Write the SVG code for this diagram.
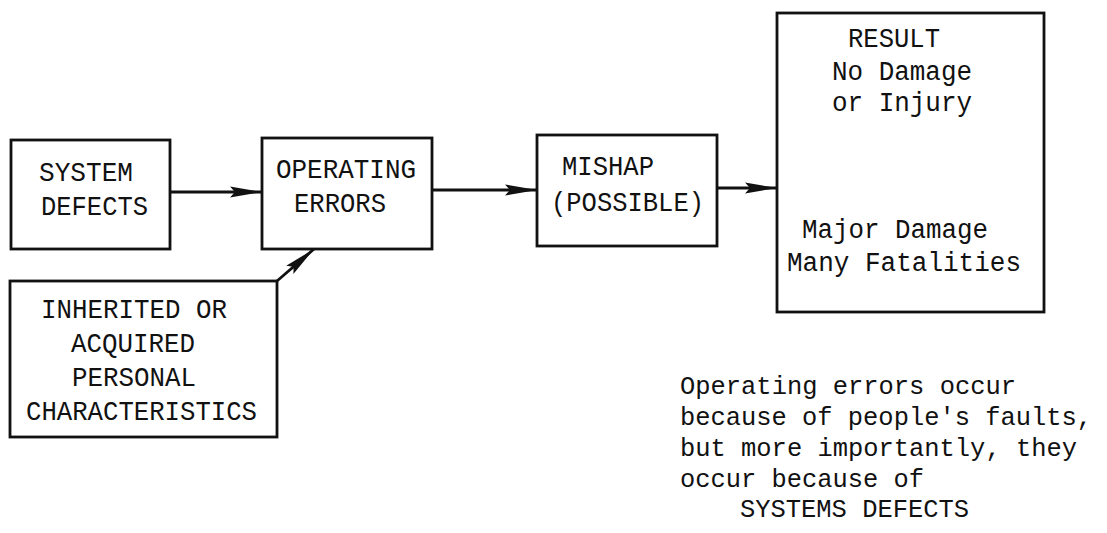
<svg xmlns="http://www.w3.org/2000/svg" width="1107" height="533" viewBox="0 0 1107 533">
<style>
  .box { fill: none; stroke: #111; stroke-width: 2.8; }
  .lbl { font-family: "Liberation Mono", "DejaVu Sans Mono", monospace; font-size: 27px; fill: #111; }
  .note { font-size: 25.5px; }
  .conn { stroke: #111; stroke-width: 2.8; fill: none; }
</style>
<defs>
  <marker id="ah" markerUnits="userSpaceOnUse" markerWidth="32" markerHeight="14" refX="32" refY="7" orient="auto">
    <path d="M0,1.5 L32,7 L0,12.5 L5,7 z" fill="#111"/>
  </marker>
</defs>
<rect width="1107" height="533" fill="#fff"/>

<g id="connectors">
  <line class="conn" x1="170" y1="192" x2="262" y2="192" marker-end="url(#ah)"/>
  <line class="conn" x1="432" y1="190" x2="537" y2="190" marker-end="url(#ah)"/>
  <line class="conn" x1="717" y1="188" x2="777" y2="188" marker-end="url(#ah)"/>
  <line class="conn" x1="277" y1="281" x2="314" y2="249" marker-end="url(#ah)"/>
</g>

<g id="system-defects">
  <rect class="box" x="11" y="140" width="159" height="109"/>
  <text class="lbl" x="39" y="181" textLength="94" lengthAdjust="spacingAndGlyphs">SYSTEM</text>
  <text class="lbl" x="41" y="215" textLength="107" lengthAdjust="spacingAndGlyphs">DEFECTS</text>
</g>

<g id="operating-errors">
  <rect class="box" x="262" y="138" width="170" height="111"/>
  <text class="lbl" x="276" y="178" textLength="140" lengthAdjust="spacingAndGlyphs">OPERATING</text>
  <text class="lbl" x="294" y="212" textLength="92" lengthAdjust="spacingAndGlyphs">ERRORS</text>
</g>

<g id="personal-characteristics">
  <rect class="box" x="10" y="281" width="267" height="156"/>
  <text class="lbl" x="41" y="318" textLength="186" lengthAdjust="spacingAndGlyphs">INHERITED OR</text>
  <text class="lbl" x="71" y="352" textLength="124" lengthAdjust="spacingAndGlyphs">ACQUIRED</text>
  <text class="lbl" x="72" y="386" textLength="124" lengthAdjust="spacingAndGlyphs">PERSONAL</text>
  <text class="lbl" x="26" y="420" textLength="231" lengthAdjust="spacingAndGlyphs">CHARACTERISTICS</text>
</g>

<g id="mishap">
  <rect class="box" x="537" y="135" width="180" height="111"/>
  <text class="lbl" x="562" y="175" textLength="92" lengthAdjust="spacingAndGlyphs">MISHAP</text>
  <text class="lbl" x="551" y="211" textLength="153" lengthAdjust="spacingAndGlyphs">(POSSIBLE)</text>
</g>

<g id="result">
  <rect class="box" x="777" y="13" width="267" height="299"/>
  <text class="lbl" x="848" y="47" textLength="92" lengthAdjust="spacingAndGlyphs">RESULT</text>
  <text class="lbl" x="832" y="80" textLength="140" lengthAdjust="spacingAndGlyphs">No Damage</text>
  <text class="lbl" x="832" y="111" textLength="140" lengthAdjust="spacingAndGlyphs">or Injury</text>
  <text class="lbl" x="802" y="238" textLength="186" lengthAdjust="spacingAndGlyphs">Major Damage</text>
  <text class="lbl" x="787" y="271" textLength="234" lengthAdjust="spacingAndGlyphs">Many Fatalities</text>
</g>

<g id="note">
  <text class="lbl note" x="680" y="394" textLength="336" lengthAdjust="spacingAndGlyphs">Operating errors occur</text>
  <text class="lbl note" x="680" y="425" textLength="412" lengthAdjust="spacingAndGlyphs">because of people's faults,</text>
  <text class="lbl note" x="680" y="456" textLength="397" lengthAdjust="spacingAndGlyphs">but more importantly, they</text>
  <text class="lbl note" x="680" y="487" textLength="244" lengthAdjust="spacingAndGlyphs">occur because of</text>
  <text class="lbl note" x="740" y="517" textLength="229" lengthAdjust="spacingAndGlyphs">SYSTEMS DEFECTS</text>
</g>
</svg>
